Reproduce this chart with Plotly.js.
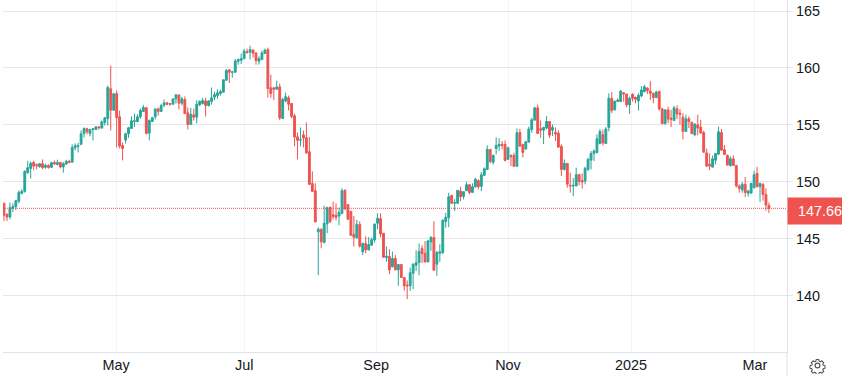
<!DOCTYPE html>
<html>
<head>
<meta charset="utf-8">
<script src="https://cdn.plot.ly/plotly-3.0.1.min.js"></script>
<style>html,body{margin:0;padding:0;background:#fff}#chart{width:842px;height:376px}</style>
</head>
<body>
<div id="chart"></div>
<script>
const opens = [
148.10,147.13,146.90,147.66,147.81,148.28,148.98,149.15,150.79,151.17,
151.69,151.49,151.32,151.58,151.26,151.43,151.26,151.69,151.52,151.69,
151.29,151.55,151.78,151.72,152.98,153.10,153.28,154.24,154.65,154.24,
154.59,154.59,154.82,154.71,155.20,155.55,158.16,156.29,157.75,155.70,
153.19,153.66,154.21,154.68,155.29,155.29,155.70,156.17,156.49,154.27,
155.29,155.70,156.40,156.17,156.72,156.93,156.87,156.81,157.28,157.63,
156.90,157.22,156.05,155.03,155.88,155.67,156.75,156.87,157.10,156.70,
157.05,157.43,157.57,157.75,157.87,158.92,159.83,159.62,159.62,160.59,
160.67,160.82,161.43,161.38,161.58,161.32,160.59,160.73,161.26,161.61,
158.25,158.25,158.13,158.33,155.56,157.10,157.37,156.87,155.79,153.95,
153.66,154.12,153.86,152.63,149.85,149.21,145.59,145.82,144.65,146.29,
147.75,147.10,147.05,146.99,147.22,149.24,147.98,147.40,145.38,145.06,
146.23,143.83,144.56,144.00,144.42,144.88,146.35,146.75,145.47,143.33,
143.42,142.52,143.25,142.25,142.72,141.58,140.91,140.85,141.96,142.66,
142.89,144.12,143.71,142.95,144.71,145.09,142.75,143.71,143.77,146.49,
146.84,148.80,148.10,148.10,149.18,148.71,149.21,149.74,149.06,149.56,
150.09,149.59,150.56,151.08,152.84,151.70,152.92,153.13,153.28,153.28,
151.96,152.31,152.31,151.35,154.33,153.28,152.87,153.48,154.59,155.41,
156.49,154.65,154.53,154.71,155.29,154.53,154.33,154.27,153.10,151.08,
151.61,149.68,149.62,149.62,150.64,150.09,150.06,151.08,151.90,152.49,
152.57,153.35,154.13,153.35,154.77,157.33,156.31,157.04,157.04,157.82,
157.71,156.75,157.68,157.42,157.10,157.53,157.91,158.23,157.97,157.77,
157.39,157.94,156.40,155.12,156.31,155.58,155.38,156.40,156.02,155.67,
154.42,155.53,155.21,154.13,155.00,154.80,154.33,152.53,151.54,151.28,
151.89,152.42,154.33,152.82,152.30,151.43,152.01,151.43,149.63,149.28,
149.77,148.99,148.99,149.48,150.73,149.57,149.77,148.87,147.91];
const highs = [
148.16,147.22,148.16,148.10,148.39,149.24,149.33,151.00,151.84,151.78,
151.84,151.61,151.61,151.96,151.58,151.52,151.75,151.87,151.93,151.75,
151.72,151.93,151.93,153.28,153.36,153.42,154.50,154.77,154.74,154.65,
154.65,154.85,154.82,155.38,155.70,158.45,160.20,157.81,158.01,156.26,
153.45,154.30,154.82,155.73,155.99,155.94,156.43,156.75,156.58,155.47,
155.70,156.40,156.52,156.84,157.22,157.00,156.90,157.28,157.72,157.66,
157.46,157.49,156.52,156.49,156.43,157.16,157.16,157.37,157.37,157.16,
158.28,157.90,158.13,158.10,158.98,159.91,159.91,159.71,160.79,160.82,
161.26,161.67,161.70,161.96,161.61,161.35,161.02,161.52,161.70,161.78,
159.42,158.30,158.89,158.63,157.37,157.84,157.57,156.93,155.99,154.33,
154.77,154.50,155.20,153.92,150.91,149.85,145.99,145.88,147.90,147.81,
147.81,148.25,148.10,147.72,149.42,149.33,148.01,147.43,146.99,146.64,
146.52,144.65,145.20,145.12,145.09,146.35,147.22,147.22,145.47,144.30,
144.07,143.86,143.57,142.72,142.72,141.58,141.32,142.46,142.83,143.98,
144.56,144.41,144.77,144.88,145.23,146.52,143.92,144.50,146.70,147.28,
149.03,148.80,148.45,149.24,149.56,149.18,150.00,149.77,149.85,150.35,
150.21,150.85,151.26,153.19,152.84,152.40,153.89,153.83,153.57,153.63,
153.07,152.40,152.54,154.68,154.65,153.33,153.57,154.83,155.61,156.58,
156.78,155.38,154.83,155.76,155.29,155.03,154.77,154.50,153.28,151.96,
151.61,150.79,150.32,151.23,150.64,150.73,151.32,152.11,152.69,152.84,
154.15,154.63,154.57,154.80,157.77,157.88,157.13,157.33,158.06,157.88,
157.71,157.47,157.77,157.47,157.77,158.40,158.52,158.29,158.84,157.82,
158.00,158.00,156.49,156.37,156.60,156.31,156.66,156.72,156.37,156.02,
155.88,155.73,155.29,155.15,155.88,155.44,154.48,152.91,152.47,152.30,
152.53,154.83,154.63,153.23,152.39,152.24,152.30,151.43,149.77,149.97,
150.41,149.28,149.92,150.96,151.31,149.92,149.86,149.42,148.17];
const lows = [
146.55,146.55,146.69,147.34,147.51,148.10,148.89,149.03,150.70,150.29,
151.00,151.08,151.23,151.08,151.14,151.14,151.20,151.49,151.43,151.17,
150.79,151.49,151.61,151.67,152.75,152.57,153.25,153.89,154.15,153.98,
153.63,154.56,154.59,154.68,154.94,154.94,154.50,156.23,153.01,152.92,
151.87,153.36,153.86,154.65,154.80,155.23,155.53,156.14,154.15,153.63,
155.26,155.47,155.82,156.14,156.55,156.72,156.67,156.78,156.87,156.34,
156.70,155.94,154.59,155.00,155.38,155.12,156.64,156.78,155.73,156.61,
156.78,157.16,157.28,157.57,157.84,158.86,158.68,159.15,159.59,160.29,
160.35,160.76,161.26,160.73,160.91,160.29,160.29,160.70,161.23,157.40,
157.37,157.16,158.10,155.41,155.50,156.96,156.26,155.56,153.10,151.96,
153.10,153.01,152.43,149.71,149.09,146.46,141.78,144.15,144.59,145.47,
146.35,146.70,146.58,146.17,147.14,147.54,146.64,145.29,144.30,145.00,
144.21,143.54,143.71,143.98,144.36,144.65,145.82,145.12,143.30,142.95,
141.87,142.46,142.25,140.85,141.58,140.41,139.68,140.41,140.55,142.16,
141.78,142.84,142.89,142.92,143.92,142.16,141.73,142.95,143.63,145.96,
146.00,148.10,147.43,148.10,148.28,148.45,149.18,148.89,149.04,149.47,
149.33,149.18,150.50,151.05,151.61,151.52,152.40,152.69,152.84,151.78,
151.90,151.37,151.35,151.32,153.07,152.13,152.84,153.45,154.30,155.41,
154.24,153.86,153.30,154.59,153.86,154.01,153.57,152.98,150.50,150.99,
149.47,149.04,148.74,149.62,149.68,149.39,149.77,150.94,151.08,151.81,
152.49,153.29,153.17,153.32,154.42,156.02,156.31,157.01,157.01,157.04,
156.54,155.96,157.04,156.89,156.25,157.42,157.85,157.71,157.18,156.89,
157.36,156.25,155.09,155.00,155.15,154.80,155.35,155.50,155.00,153.70,
154.39,154.71,154.19,153.99,154.07,154.22,152.53,151.31,151.02,151.28,
151.51,152.39,152.74,152.39,151.43,151.31,151.43,149.48,149.04,149.04,
148.64,148.70,148.99,149.39,149.48,148.23,148.32,147.45,147.24];
const closes = [
147.05,146.90,147.72,147.81,148.33,149.06,149.15,150.91,151.23,151.61,
151.37,151.40,151.58,151.23,151.43,151.26,151.67,151.55,151.69,151.29,
151.58,151.78,151.69,153.01,153.16,153.16,154.21,154.68,154.39,154.59,
154.65,154.82,154.74,155.26,155.61,158.28,156.29,157.72,155.64,153.13,
152.92,154.21,154.74,155.35,155.35,155.70,156.26,156.52,154.24,155.38,
155.61,156.40,156.17,156.69,156.93,156.81,156.81,157.28,157.63,156.90,
157.28,155.99,155.03,155.91,155.67,156.81,157.05,157.13,156.70,157.10,
157.37,157.66,157.81,157.92,158.95,159.77,159.62,159.65,160.61,160.73,
160.82,161.49,161.35,161.61,161.29,160.64,160.82,161.32,161.55,158.19,
157.75,158.13,158.33,155.59,157.22,157.46,156.81,155.73,153.92,153.63,
153.68,153.83,152.54,149.77,149.15,146.46,145.82,144.71,146.35,147.72,
146.49,146.93,146.87,147.31,149.21,147.60,146.70,145.29,145.12,146.26,
144.33,144.56,144.00,144.47,144.91,146.26,146.78,145.41,143.36,143.45,
142.25,143.25,142.25,142.72,141.58,140.85,140.85,142.00,142.75,142.89,
143.86,143.68,142.95,144.79,145.09,142.22,143.77,143.83,146.61,146.87,
148.68,148.10,148.16,149.24,148.68,149.12,149.74,149.06,149.56,150.21,
149.56,150.61,151.14,152.84,151.78,152.31,153.19,153.28,153.19,151.87,
152.98,152.19,151.35,154.30,153.13,152.57,153.51,154.62,155.44,156.49,
154.24,154.53,154.77,155.29,154.09,154.77,154.18,153.04,151.08,151.61,
149.77,149.62,149.68,150.61,150.03,149.97,151.17,151.96,152.49,152.69,
153.77,154.42,153.40,154.63,157.33,156.25,157.07,157.18,157.97,157.71,
156.75,157.33,157.33,157.24,157.59,158.06,158.35,158.00,157.77,157.39,
157.88,156.40,155.09,156.31,155.50,155.47,156.49,155.96,155.93,154.42,
155.53,155.27,154.22,155.06,154.71,154.28,152.59,151.37,151.37,152.01,
152.47,154.39,152.77,152.39,151.46,152.01,151.43,149.63,149.39,149.77,
149.04,149.19,149.83,150.61,149.57,149.83,148.87,147.94,147.66];

const sessionIndex = opens.map((_, i) => i);
const timeTickIndex = [37.8, 81, 125.5, 170, 211.5, 253.3];
const timeTickLabels = ['May', 'Jul', 'Sep', 'Nov', '2025', 'Mar'];
const priceTicks = [140, 145, 150, 155, 160, 165];
const lastPrice = 147.66;

const GREEN = '#26a69a', RED = '#ef5350';
const FONT = 'Liberation Sans, Arial, sans-serif';

const gear = "data:image/svg+xml;utf8," + encodeURIComponent(
'<svg xmlns="http://www.w3.org/2000/svg" width="18" height="18" viewBox="0 0 24 24" fill="none" stroke="#50535e" stroke-width="1.7" stroke-linejoin="round">' +
'<path d="M10 2.5h4l.6 2.8 1.9.8 2.4-1.5 2.8 2.8-1.5 2.4.8 1.9 2.8.6v0 4l-2.8.6-.8 1.9 1.5 2.4-2.8 2.8-2.4-1.5-1.9.8-.6 2.8h-4l-.6-2.8-1.9-.8-2.4 1.5-2.8-2.8 1.5-2.4-.8-1.9-2.8-.6v-4l2.8-.6.8-1.9-1.5-2.4 2.8-2.8 2.4 1.5 1.9-.8z" transform="translate(1.2 1.2) scale(.9)"/>' +
'<circle cx="12" cy="12" r="3.4"/></svg>');

const trace = {
  type: 'candlestick',
  x: sessionIndex, open: opens, high: highs, low: lows, close: closes,
  increasing: {line: {color: GREEN, width: 1}, fillcolor: GREEN},
  decreasing: {line: {color: RED, width: 1}, fillcolor: RED},
  whiskerwidth: 0,
  hoverinfo: 'skip',
  showlegend: false
};

const layout = {
  width: 842, height: 376,
  margin: {l: 3, r: 55, t: 0, b: 24, autoexpand: false},
  paper_bgcolor: '#fff', plot_bgcolor: '#fff',
  font: {family: FONT, size: 14.4, color: '#131722'},
  showlegend: false,
  boxgap: 0.12,
  xaxis: {
    type: 'linear', range: [-0.34, 264.1], fixedrange: true,
    rangeslider: {visible: false},
    tickmode: 'array', tickvals: timeTickIndex, ticktext: timeTickLabels,
    showgrid: true, gridcolor: '#f0f3fa', gridwidth: 1,
    showline: true, linecolor: '#e0e3eb', linewidth: 1,
    zeroline: false, ticks: '', ticklen: 0,
    tickfont: {family: FONT, size: 14.4, color: '#131722'}
  },
  yaxis: {
    side: 'right', range: [135.03, 165.97], fixedrange: true,
    tickmode: 'array', tickvals: priceTicks, ticktext: priceTicks.map(String),
    showgrid: true, gridcolor: '#e6e6e6', gridwidth: 1,
    showline: true, linecolor: '#e0e3eb', linewidth: 1, mirror: false,
    zeroline: false, ticks: 'outside', ticklen: 5, tickcolor: '#e6e6e6',
    tickfont: {family: FONT, size: 14.4, color: '#131722'}
  },
  shapes: [
    {type: 'line', xref: 'paper', yref: 'y', x0: 0, x1: 1, y0: lastPrice, y1: lastPrice,
     line: {color: RED, width: 1, dash: '1px,1px'}, layer: 'above'},
    {type: 'line', xref: 'paper', yref: 'paper', x0: 1, x1: 1, y0: -0.07, y1: 0,
     line: {color: '#e0e3eb', width: 1}}
  ],
  annotations: [{
    xref: 'paper', yref: 'y', x: 1, y: lastPrice, xanchor: 'left', yanchor: 'middle',
    yshift: -3, showarrow: false, text: lastPrice.toFixed(2),
    font: {family: FONT, size: 14.4, color: '#ffffff'},
    bgcolor: RED, width: 53, height: 24, borderpad: 1, align: 'right'
  }],
  images: [{
    source: gear, xref: 'paper', yref: 'paper',
    x: 1 + (809 - 787) / 784, y: -(357 - 352) / 352,
    sizex: 17 / 784, sizey: 17 / 352, xanchor: 'left', yanchor: 'top', layer: 'above'
  }]
};

Plotly.newPlot('chart', [trace], layout, {displayModeBar: false, staticPlot: true, responsive: false});
</script>
</body>
</html>
